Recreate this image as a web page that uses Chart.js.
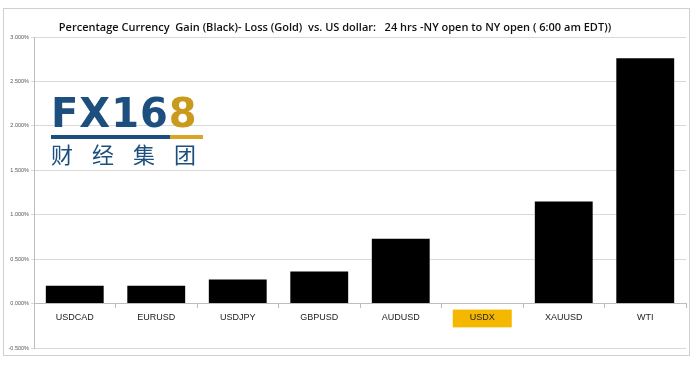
<!DOCTYPE html>
<html>
<head>
<meta charset="utf-8">
<script src="https://cdn.jsdelivr.net/npm/chart.js@4"></script>
<style>
html,body{margin:0;padding:0;background:#fff;}
#wrap{position:relative;width:700px;height:366px;}
#frame{position:absolute;left:3px;top:8px;width:687px;height:348px;border:1px solid #cfcfcf;box-sizing:border-box;}
#c{position:absolute;left:0;top:0;}
#title{position:absolute;left:0;width:670px;top:19px;text-align:center;font-family:"Open Sans";font-weight:600;font-size:11px;line-height:16px;color:#111;white-space:pre;}
#logo{position:absolute;left:51px;top:94px;width:152px;}
#fx{font-family:"DejaVu Sans";font-weight:bold;font-size:40px;line-height:38px;color:#1c4f7d;letter-spacing:1px;}
#fx span{color:#c99a1e;}
#bar{height:4px;margin-top:3px;background:linear-gradient(to right,#1c4f7d 0,#1c4f7d 78%,#d6a627 78%,#d6a627 100%);}
#cn{font-family:"Noto Sans CJK SC";font-size:22px;line-height:28px;color:#1c4f7d;letter-spacing:19px;white-space:nowrap;}
</style>
</head>
<body>
<div id="wrap">
<div id="frame"></div>
<canvas id="c" width="700" height="366"></canvas>
<div id="title"></div>
<div id="logo"><div id="fx">FX16<span>8</span></div><div id="bar"></div><div id="cn">财经集团</div></div>
</div>
<script>
const categories = ["USDCAD","EURUSD","USDJPY","GBPUSD","AUDUSD","USDX","XAUUSD","WTI"];
const changes = [0.20, 0.20, 0.27, 0.36, 0.73, -0.005, 1.15, 2.76];
const yTicks = [-0.5, 0, 0.5, 1.0, 1.5, 2.0, 2.5, 3.0];
const titleText = "Percentage Currency  Gain (Black)- Loss (Gold)  vs. US dollar:   24 hrs -NY open to NY open ( 6:00 am EDT))";
const GOLD = "#f5b800";

document.getElementById("title").textContent = titleText;

new Chart(document.getElementById("c"), {
  type: "bar",
  data: {
    labels: categories,
    datasets: [{
      data: changes,
      backgroundColor: changes.map(v => v < 0 ? GOLD : "#000"),
      borderWidth: 0,
      barPercentage: 0.71,
      categoryPercentage: 1.0
    }]
  },
  options: {
    responsive: false,
    animation: false,
    layout: { padding: { left: 8, right: 14, top: 37, bottom: 18 } },
    plugins: {
      legend: { display: false },
      tooltip: { enabled: false },
      title: { display: false }
    },
    scales: {
      x: {
        position: { y: 0 },
        grid: { offset: true, drawOnChartArea: false, tickLength: 4, color: "#bdbdbd" },
        border: { display: true, color: "#bdbdbd" },
        ticks: {
          color: "#222",
          font: { family: "Liberation Sans", size: 9 },
          padding: 5,
          showLabelBackdrop: true,
          backdropColor: ctx => categories[ctx.index] === "USDX" ? GOLD : "rgba(0,0,0,0)",
          backdropPadding: { left: 17, right: 17, top: 3, bottom: 4 }
        }
      },
      y: {
        min: -0.5,
        max: 3.0,
        afterBuildTicks: s => { s.ticks = yTicks.map(v => ({ value: v })); },
        afterFit: s => { s.width = 26; },
        grid: { color: "#d9d9d9", tickLength: 3 },
        border: { display: true, color: "#bdbdbd" },
        ticks: {
          color: "#555",
          font: { family: "Liberation Sans", size: 5.5 },
          padding: 2,
          callback: v => v.toFixed(3) + "%"
        }
      }
    }
  }
});
</script>
</body>
</html>
